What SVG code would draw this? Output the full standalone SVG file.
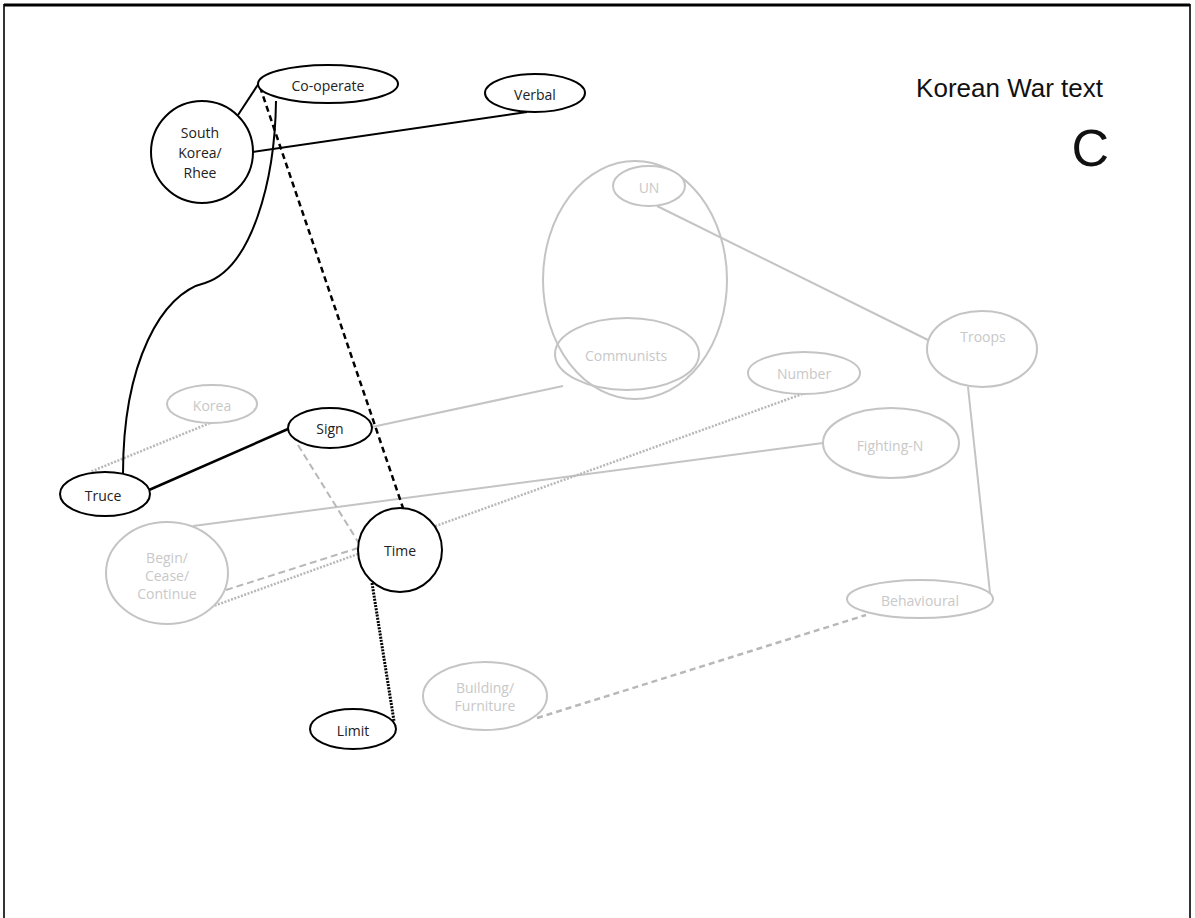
<svg xmlns="http://www.w3.org/2000/svg" width="1195" height="918" viewBox="0 0 1195 918">
<style>
.bk{fill:#fff;stroke:#000;stroke-width:2}
.gy{fill:#fff;stroke:#c4c4c4;stroke-width:2}
.gyn{fill:none;stroke:#c4c4c4;stroke-width:2}
.t{font-family:"Open Sans","Noto Sans",sans-serif;font-size:14px;text-anchor:middle;dominant-baseline:central;fill:#222}
.tg{font-family:"Open Sans","Noto Sans",sans-serif;font-size:14px;text-anchor:middle;dominant-baseline:central;fill:#c8c8c8}
.title{font-family:"Liberation Sans",Arial,sans-serif;fill:#111}
</style>
<rect x="0" y="0" width="1195" height="918" fill="#fff"/>
<g id="border" fill="none" stroke="#000">
<line x1="4" y1="5" x2="1190" y2="5" stroke-width="3"/>
<line x1="4" y1="4" x2="4" y2="918" stroke-width="1.6"/>
<line x1="1190" y1="4" x2="1190" y2="918" stroke-width="1.6"/>
</g>
<g id="connectors">
<line x1="563" y1="386" x2="372" y2="427" stroke="#c4c4c4" stroke-width="2"/>
<line x1="193" y1="526" x2="823" y2="443" stroke="#c4c4c4" stroke-width="2"/>
<line x1="657" y1="206" x2="928" y2="340" stroke="#c4c4c4" stroke-width="2"/>
<line x1="968" y1="387" x2="990" y2="593" stroke="#c4c4c4" stroke-width="2"/>
<line x1="537" y1="718" x2="866" y2="615" stroke="#b8b8b8" stroke-width="2.5" stroke-dasharray="6 4"/>
<line x1="208" y1="608" x2="805" y2="393" stroke="#b8b8b8" stroke-width="2.5" stroke-dasharray="2 1.5"/>
<line x1="226" y1="590" x2="358" y2="548" stroke="#b8b8b8" stroke-width="2" stroke-dasharray="7 4"/>
<line x1="298" y1="445" x2="360" y2="545" stroke="#b8b8b8" stroke-width="2" stroke-dasharray="7 4"/>
<line x1="210" y1="423" x2="90" y2="472" stroke="#b8b8b8" stroke-width="2.5" stroke-dasharray="2 1.5"/>
<line x1="238" y1="115" x2="259" y2="83" stroke="#000" stroke-width="2"/>
<line x1="253" y1="152" x2="527" y2="112" stroke="#000" stroke-width="2"/>
<path d="M276,101 C275,180 252,268 205,283 C162,293 123,362 123,474" fill="none" stroke="#000" stroke-width="2"/>
<line x1="260" y1="87" x2="403" y2="508" stroke="#000" stroke-width="2.5" stroke-dasharray="6 4"/>
<line x1="149" y1="490" x2="288" y2="429" stroke="#000" stroke-width="2.5"/>
<line x1="372" y1="583" x2="394" y2="721" stroke="#000" stroke-width="3" stroke-dasharray="2 1.2"/>
</g>
<g id="group-big"><ellipse class="gyn" cx="635" cy="280" rx="92" ry="119"/></g>
<g id="node-un"><ellipse class="gy" cx="649" cy="186" rx="36" ry="20"/><text class="tg" x="649" y="187">UN</text></g>
<g id="node-communists"><ellipse class="gyn" cx="627" cy="354" rx="72" ry="36"/><text class="tg" x="626" y="355">Communists</text></g>
<g id="node-troops"><ellipse class="gy" cx="982" cy="349" rx="55" ry="38"/><text class="tg" x="983" y="336">Troops</text></g>
<g id="node-number"><ellipse class="gy" cx="804" cy="373" rx="56" ry="21"/><text class="tg" x="804" y="373">Number</text></g>
<g id="node-fighting"><ellipse class="gy" cx="891" cy="443" rx="68" ry="35"/><text class="tg" x="890" y="445">Fighting-N</text></g>
<g id="node-behavioural"><ellipse class="gy" cx="920" cy="599" rx="73" ry="19"/><text class="tg" x="920" y="600">Behavioural</text></g>
<g id="node-building"><ellipse class="gy" cx="485" cy="696" rx="62" ry="34"/><text class="tg" x="485" y="687">Building/</text><text class="tg" x="485" y="705">Furniture</text></g>
<g id="node-korea"><ellipse class="gy" cx="212" cy="404" rx="45" ry="19"/><text class="tg" x="212" y="405">Korea</text></g>
<g id="node-begin"><ellipse class="gy" cx="167" cy="573" rx="61" ry="51"/><text class="tg" x="167" y="557">Begin/</text><text class="tg" x="167" y="575">Cease/</text><text class="tg" x="167" y="593">Continue</text></g>
<g id="node-cooperate"><ellipse class="bk" cx="328" cy="84" rx="70" ry="19"/><text class="t" x="328" y="85">Co-operate</text></g>
<g id="node-verbal"><ellipse class="bk" cx="535" cy="93" rx="50" ry="19"/><text class="t" x="535" y="94">Verbal</text></g>
<g id="node-southkorea"><circle class="bk" cx="202" cy="152" r="51"/><text class="t" x="200" y="132">South</text><text class="t" x="200" y="152">Korea/</text><text class="t" x="200" y="172">Rhee</text></g>
<g id="node-sign"><ellipse class="bk" cx="330" cy="428" rx="42" ry="20"/><text class="t" x="330" y="428">Sign</text></g>
<g id="node-truce"><ellipse class="bk" cx="105" cy="494" rx="45" ry="22"/><text class="t" x="103" y="495">Truce</text></g>
<g id="node-time"><circle class="bk" cx="400" cy="550" r="42"/><text class="t" x="400" y="550">Time</text></g>
<g id="node-limit"><ellipse class="bk" cx="353" cy="729" rx="43" ry="20"/><text class="t" x="353" y="730">Limit</text></g>
<g id="title">
<text class="title" x="1103" y="97" font-size="26" text-anchor="end">Korean War text</text>
<text class="title" x="1109" y="166" font-size="52" text-anchor="end">C</text>
</g>
</svg>
